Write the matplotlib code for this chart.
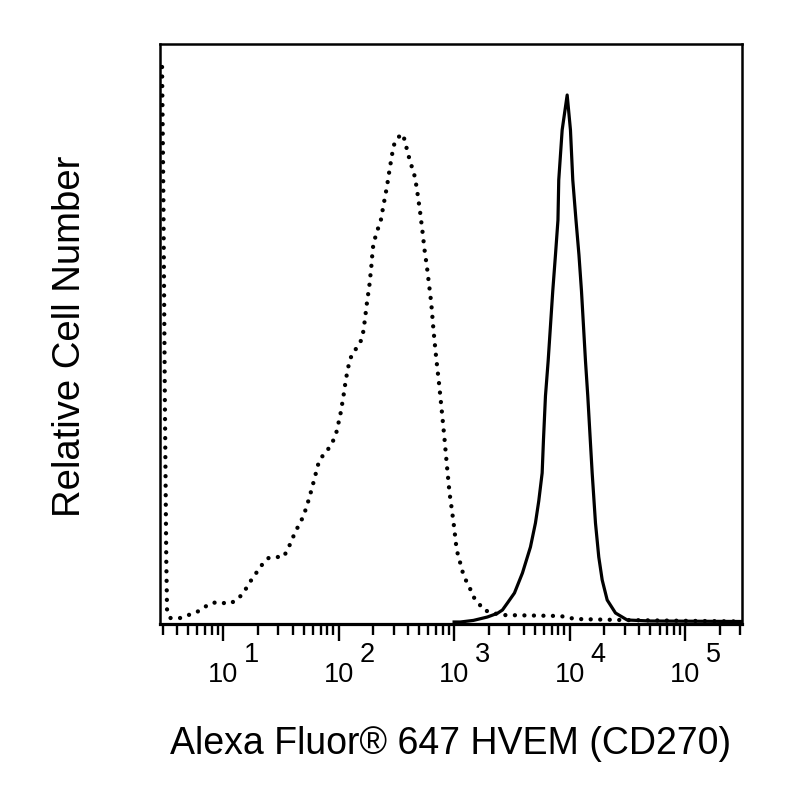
import matplotlib
matplotlib.use("Agg")
import matplotlib.pyplot as plt
import matplotlib.transforms as mtransforms

plt.rcParams['font.family'] = ['Liberation Sans', 'DejaVu Sans']

# isotype control (dotted) - fluorescence vs relative count
iso_x = [2.97, 3.05, 3.14, 3.23, 3.28, 3.50, 4.27, 5.04, 5.96, 6.93, 8.03, 9.35,
         11.0, 12.8, 14.8, 17.8, 21.7, 24.8, 28.7, 33.4, 36.5, 42.2, 49.8, 55.8,
         60.8, 67.1, 72.7, 80.4, 88.8, 95.5, 103.5, 110, 115.9, 123.8, 132, 146,
         159, 164, 168, 176, 185, 192, 198, 205, 215, 230, 245, 262, 276, 293,
         305, 330, 361, 378, 398, 417, 440, 460, 486, 509, 533, 555, 582, 609,
         634, 664, 700, 743, 784, 826, 867, 913, 957, 1002, 1043, 1079, 1130,
         1192, 1273, 1378, 1472, 1627, 1796, 2052, 2517, 8326, 11225, 27540,
         135700, 305000]
iso_y = [557, 424, 224, 64, 14, 6, 6, 9, 12, 17, 21, 22,
         20, 23, 30, 45, 59, 66, 67, 67, 75, 92, 108, 126,
         142, 161, 168, 174, 182, 191, 209, 227, 245, 262, 271, 277,
         285, 293, 302, 321, 339, 357, 376, 384, 393, 401, 419, 437, 454, 472,
         481, 487, 490, 481, 471, 462, 454, 446, 428, 411, 392, 374, 357, 338,
         321, 293, 266, 239, 212, 185, 158, 131, 114, 96, 78, 69, 61,
         51, 43, 35, 27, 21, 14, 12, 9, 8, 5, 4,
         3, 2.5]

# HVEM stained (solid)
hvem_x = [1000, 1134, 1469, 1943, 2371, 2620, 2894, 3328, 3903, 4578, 5057,
          5402, 5780, 5933, 6174, 6514, 6820, 7140, 7535, 7920, 8046, 8611,
          9515, 10160, 10640, 11340, 12035, 12655, 13170, 13705, 14347, 15080,
          15660, 16725, 17860, 19120, 21120, 24920, 31460, 50070, 307200]
hvem_y = [2, 2, 3.6, 7, 10.7, 14, 21, 31, 51, 77, 101,
          123, 151, 184, 228, 263, 298, 333, 369, 404, 444, 494,
          529, 494, 444, 404, 369, 333, 298, 263, 228, 184,
          151, 101, 67, 44, 24, 11, 4, 3, 2.5]

decades = [1, 2, 3, 4, 5]

fig = plt.figure(figsize=(8, 8), dpi=100)
ax = fig.add_axes([0.2, 0.22, 0.7275, 0.725])

ax.plot(iso_x, iso_y, color='black', lw=3.1, linestyle=(0, (0.01, 2.2)),
        dash_capstyle='round')
ax.plot(hvem_x, hvem_y, color='black', lw=2.3, solid_joinstyle='round')

ax.set_xscale('log')
ax.set_xlim(2.85, 3.1e5)
ax.set_ylim(0, 580)

for side in ['top', 'right', 'left']:
    ax.spines[side].set_linewidth(1.8)
ax.spines['bottom'].set_linewidth(2.3)

ax.set_yticks([])
ax.set_xticks([10.0 ** d for d in decades])
ax.set_xticklabels([])
ax.tick_params(axis='x', which='major', direction='out', length=12, width=1.7)
ax.tick_params(axis='x', which='minor', direction='out', length=8, width=1.7)
ax.xaxis.set_minor_locator(matplotlib.ticker.LogLocator(base=10, subs=range(2, 10), numticks=20))
ax.xaxis.set_minor_formatter(matplotlib.ticker.NullFormatter())

trans = mtransforms.blended_transform_factory(ax.transData, ax.transAxes)
for d in decades:
    ax.text(10.0 ** d, -0.1, "10", transform=trans, ha='center', va='baseline',
            fontsize=19.5)
    sup = mtransforms.offset_copy(trans, fig=fig, x=15, y=0, units='points')
    ax.text(10.0 ** d, -0.0655, str(d), transform=sup, ha='left', va='baseline',
            fontsize=19.5)

fig.text(451 / 800, 1 - 754 / 800, "Alexa Fluor® 647 HVEM (CD270)",
         ha='center', va='baseline', fontsize=27)
fig.text(70 / 800, 1 - 336 / 800, "Relative Cell Number", rotation=90,
         ha='center', va='center', fontsize=27.5)

fig.savefig('out.png', dpi=100)
